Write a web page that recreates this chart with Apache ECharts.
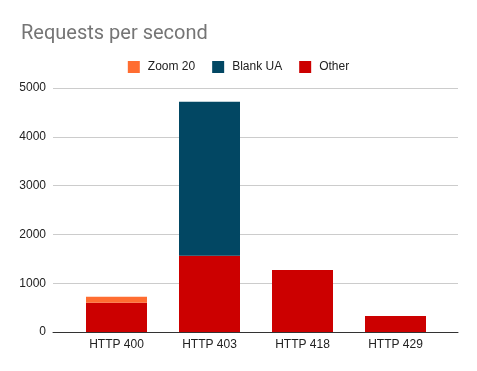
<!DOCTYPE html>
<html><head><meta charset="utf-8">
<script src="https://cdn.jsdelivr.net/npm/echarts@6/dist/echarts.min.js"></script>
<style>html,body{margin:0;padding:0;background:#fff}#c{width:477px;height:371px}</style>
</head><body><div id="c"></div>
<script>
const categories = ['HTTP 400', 'HTTP 403', 'HTTP 418', 'HTTP 429'];
const zoom20 = [120, 0, 0, 0];
const blankUA = [0, 3156, 0, 0];
const other = [600, 1563, 1272, 328];
const yTicks = [0, 1000, 2000, 3000, 4000, 5000];

const chart = echarts.init(document.getElementById('c'), null, {renderer: 'canvas'});
const font = 'Roboto, "Liberation Sans", Arial, sans-serif';
const font2 = '"Liberation Sans", Arial, sans-serif';
const yBase = {type: 'value', min: 0, max: 5000, interval: 1000};
chart.setOption({
  animation: false,
  title: {
    text: 'Requests per second', left: 16, top: 19,
    textStyle: {fontFamily: font, fontSize: 20, fontWeight: 'normal', color: '#757575'}
  },
  legend: {
    data: ['Zoom 20', 'Blank UA', 'Other'],
    top: 56, left: 'center', itemWidth: 12, itemHeight: 12, itemGap: 17,
    icon: 'rect',
    textStyle: {fontFamily: font2, fontSize: 12, color: '#222', padding: [0, 0, 0, 3]}
  },
  grid: [
    {left: 53, right: 19, top: 88, bottom: 39, containLabel: false},
    {left: 70, right: 35, top: 88, bottom: 39, containLabel: false}
  ],
  xAxis: [
    {type: 'category', gridIndex: 0, data: [''], axisTick: {show: false}, axisLabel: {show: false},
     axisLine: {show: true, lineStyle: {color: '#333', width: 1}}},
    {type: 'category', gridIndex: 1, data: categories, axisTick: {show: false},
     axisLine: {show: false},
     axisLabel: {fontFamily: font2, fontSize: 12, color: '#222', margin: 7}}
  ],
  yAxis: [
    Object.assign({}, yBase, {gridIndex: 0,
      axisLine: {show: false}, axisTick: {show: false},
      splitLine: {lineStyle: {color: '#ccc', width: 1}},
      axisLabel: {fontFamily: font2, fontSize: 12, color: '#222', margin: 7,
        formatter: v => yTicks.includes(v) ? String(v) : ''}}),
    Object.assign({}, yBase, {gridIndex: 1, show: false, splitLine: {show: false}})
  ],
  series: [
    {name: 'Other', type: 'bar', stack: 's', xAxisIndex: 1, yAxisIndex: 1, barWidth: 61, data: other, itemStyle: {color: '#cc0000'}},
    {name: 'Zoom 20', type: 'bar', stack: 's', xAxisIndex: 1, yAxisIndex: 1, barWidth: 61, data: zoom20, itemStyle: {color: '#ff6d31'}},
    {name: 'Blank UA', type: 'bar', stack: 's', xAxisIndex: 1, yAxisIndex: 1, barWidth: 61, data: blankUA, itemStyle: {color: '#024763'}}
  ]
});
</script></body></html>
